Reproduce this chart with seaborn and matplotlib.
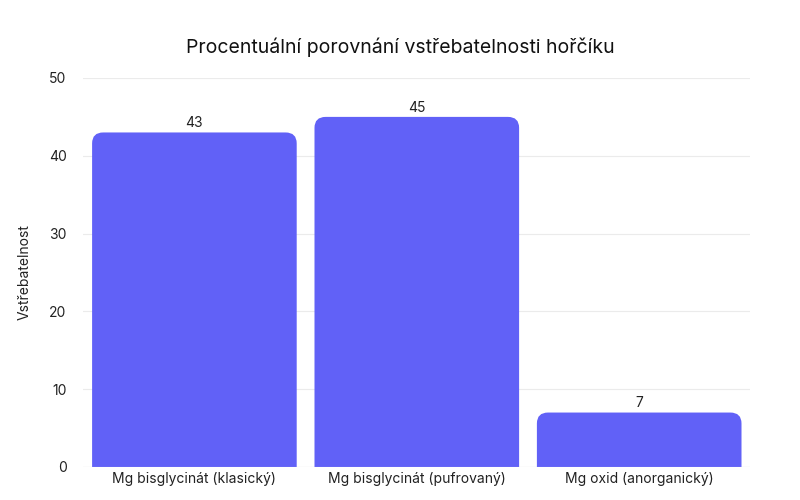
import matplotlib
matplotlib.use("Agg")
import matplotlib.pyplot as plt
import seaborn as sns
import pandas as pd
from matplotlib.patches import FancyBboxPatch

categories = ["Mg bisglycinát (klasický)", "Mg bisglycinát (pufrovaný)", "Mg oxid (anorganický)"]
values = [43, 45, 7]
title = "Procentuální porovnání vstřebatelnosti hořčíku"
ylabel = "Vstřebatelnost"

plt.rcParams["font.family"] = "Inter"
df = pd.DataFrame({"cat": categories, "val": values})

fig = plt.figure(figsize=(8, 5), dpi=100)
ax = fig.add_axes([0.104, 0.066, 0.834, 0.778])
sns.barplot(data=df, x="cat", y="val", color="#6161F7", width=0.92, ax=ax, saturation=1)

# swap plain bars for ones with rounded tops
for p, v in zip(list(ax.patches), values):
    x, w = p.get_x(), p.get_width()
    p.remove()
    ax.add_patch(FancyBboxPatch((x, -3), w, v + 3,
                                boxstyle="round,pad=0,rounding_size=0.05",
                                mutation_aspect=28, facecolor="#6161F7",
                                edgecolor="none"))
    ax.text(x + w / 2, v + 0.3, str(v), ha="center", va="bottom", fontsize=10, color="#222222")

ax.set_ylim(0, 50)
ax.set_xlim(-0.5, 2.5)
ax.set_yticks(range(0, 51, 10))
ax.grid(axis="y", color="#EBEBEB", linewidth=0.8)
ax.set_axisbelow(True)
for s in ax.spines.values():
    s.set_visible(False)
ax.axhline(0, color="#DDDDDD", linewidth=0.8)
ax.tick_params(length=0, labelsize=10, colors="#222222")
ax.tick_params(axis="y", pad=12)
ax.set_xlabel("")
ax.set_ylabel(ylabel, fontsize=10, color="#222222", labelpad=12)
fig.suptitle(title, y=0.925, fontsize=14, color="#111111")

fig.savefig("out.png", dpi=100)
